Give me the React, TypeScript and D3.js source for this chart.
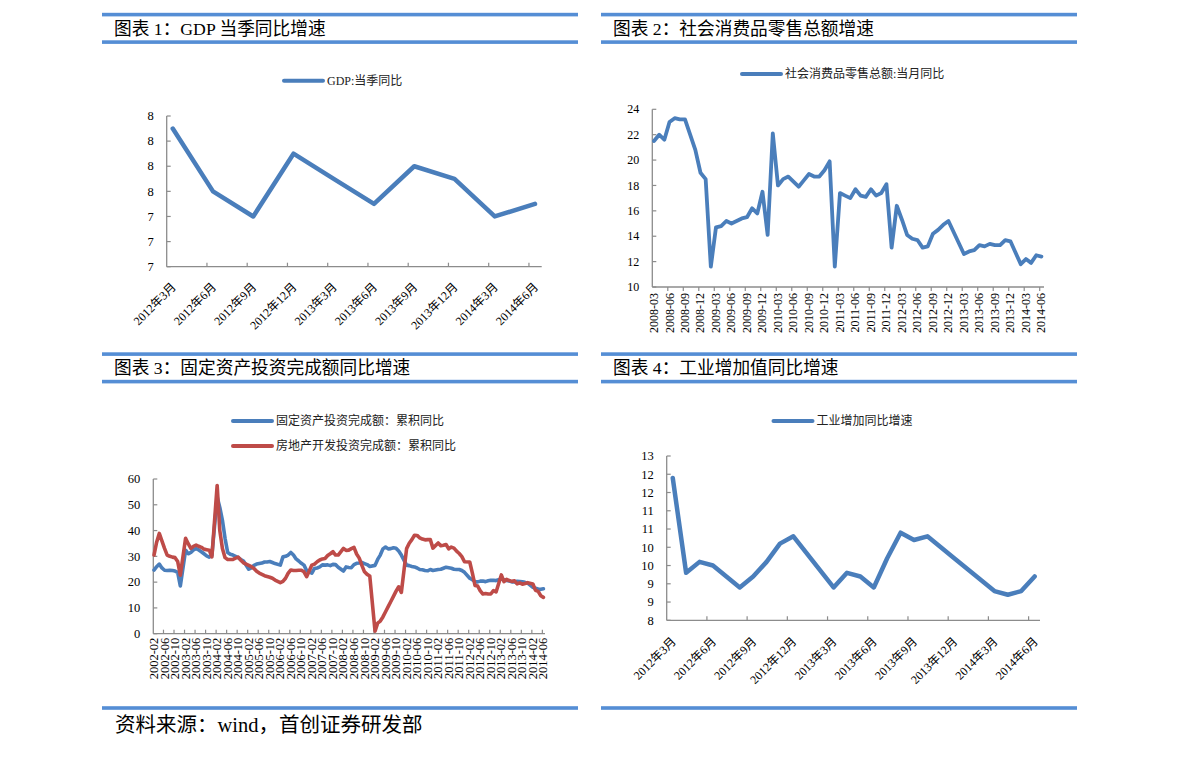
import React from 'react';
import * as d3 from 'd3';

const FONT = '"Liberation Serif", "Times New Roman", "Noto Sans CJK SC", serif';
const BLUE = '#4a7ebb';
const RED = '#be4b48';
const AXIS = '#8c8c8c';
const BAR = '#558ed5';

// 图表1: GDP 当季同比 (quarterly, 2012Q1..2014Q2)
const gdpLabels = ['2012年3月', '2012年6月', '2012年9月', '2012年12月', '2013年3月', '2013年6月', '2013年9月', '2013年12月', '2014年3月', '2014年6月'];
const gdpValues = [8.1, 7.6, 7.4, 7.9, 7.7, 7.5, 7.8, 7.7, 7.4, 7.5];
const gdpTicks = [7.0, 7.2, 7.4, 7.6, 7.8, 8.0, 8.2];

// 图表2: 社会消费品零售总额 当月同比, monthly from 2008-03 (null = no data)
const retailValues: (number | null)[] = [
  21.5, 22.0, 21.6, 23.0, 23.3, 23.2, 23.2, 22.0, 20.8, 19.0,
  18.5, 11.6, 14.7, 14.8, 15.2, 15.0, 15.2, 15.4, 15.5, 16.2, 15.8, 17.5,
  14.1, 22.1, 18.0, 18.5, 18.7, 18.3, 17.9, 18.4, 18.9, 18.7, 18.7, 19.2,
  19.9, 11.6, 17.4, 17.2, 17.0, 17.7, 17.2, 17.1, 17.7, 17.2, 17.4, 18.1,
  13.1, 16.4, 15.3, 14.1, 13.8, 13.7, 13.1, 13.2, 14.2, 14.5, 14.9, 15.2,
  null, null, 12.6, 12.8, 12.9, 13.3, 13.2, 13.4, 13.3, 13.3, 13.7, 13.6,
  null, 11.8, 12.2, 11.9, 12.5, 12.4,
];
const retailLabels = [
  '2008-03', '2008-06', '2008-09', '2008-12', '2009-03', '2009-06', '2009-09', '2009-12',
  '2010-03', '2010-06', '2010-09', '2010-12', '2011-03', '2011-06', '2011-09', '2011-12',
  '2012-03', '2012-06', '2012-09', '2012-12', '2013-03', '2013-06', '2013-09', '2013-12',
  '2014-03', '2014-06',
];
const retailTicks = [10, 12, 14, 16, 18, 20, 22, 24];

// 图表3: 累积同比, monthly from 2002-02, one row per year (Feb..Dec, next Jan = null)
const fixedInvValues: (number | null)[] = [
  24.7, 26.0, 27.0, 25.5, 24.6, 24.5, 24.6, 24.5, 24.3, 23.8, 18.5, null,
  32.4, 31.0, 31.5, 32.5, 33.0, 32.5, 31.8, 31.0, 30.2, 29.7, 30.4, null,
  53.0, 49.0, 44.0, 37.0, 31.5, 30.8, 30.5, 30.0, 29.5, 28.8, 28.2, null,
  25.0, 25.5, 26.5, 27.0, 27.2, 27.4, 27.8, 27.8, 28.0, 27.6, 27.2, null,
  26.6, 29.8, 30.0, 30.5, 31.5, 30.5, 29.0, 28.2, 27.3, 26.6, 24.5, null,
  23.5, 25.3, 25.5, 25.9, 26.7, 26.6, 26.7, 26.4, 26.9, 26.8, 25.8, null,
  24.3, 25.9, 25.7, 25.6, 26.8, 27.3, 27.4, 27.6, 27.2, 26.8, 26.1, null,
  26.5, 28.8, 30.5, 32.9, 33.6, 32.9, 33.0, 33.3, 33.1, 32.1, 30.5, null,
  26.6, 26.4, 26.1, 25.9, 25.5, 24.9, 24.8, 24.5, 24.4, 24.9, 24.5, null,
  24.9, 25.0, 25.4, 25.8, 25.6, 25.4, 25.0, 24.9, 24.9, 24.5, 23.8, null,
  21.5, 20.9, 20.2, 20.1, 20.4, 20.4, 20.2, 20.5, 20.7, 20.7, 20.6, null,
  21.2, 20.9, 20.6, 20.4, 20.1, 20.1, 20.3, 20.2, 20.1, 19.9, 19.6, null,
  18.0, 17.6, 17.3, 17.2, 17.4,
];
const realEstateValues: (number | null)[] = [
  30.5, 35.5, 38.9, 36.0, 33.1, 30.5, 30.0, 29.7, 29.5, 28.0, 22.7, null,
  37.0, 34.9, 33.1, 33.9, 34.4, 33.9, 33.5, 32.8, 32.6, 32.4, 29.8, null,
  57.5, 40.0, 33.0, 29.5, 28.8, 28.8, 28.8, 29.3, 29.7, 28.5, 27.5, null,
  26.5, 26.0, 25.3, 24.2, 23.5, 23.0, 22.5, 22.2, 21.9, 21.5, 20.8, null,
  19.8, 20.3, 21.5, 23.5, 24.7, 24.5, 24.5, 24.6, 24.6, 24.0, 22.1, null,
  26.6, 27.0, 27.9, 28.6, 29.0, 29.2, 30.3, 31.0, 31.8, 30.5, 30.5, null,
  33.1, 32.3, 32.4, 33.0, 33.5, 30.9, 29.3, 26.5, 24.0, 23.0, 22.4, null,
  1.0, 4.1, 4.9, 6.5, 8.5, 10.5, 12.5, 14.5, 16.5, 18.2, 16.0, null,
  33.0, 35.1, 36.5, 38.2, 38.1, 37.2, 36.7, 36.4, 36.5, 36.5, 33.2, null,
  35.2, 34.1, 34.3, 34.6, 32.9, 33.6, 33.2, 32.0, 31.1, 29.9, 27.9, null,
  27.8, 23.5, 18.7, 18.5, 16.6, 15.4, 15.6, 15.4, 15.4, 16.7, 16.2, null,
  22.8, 20.2, 21.1, 20.6, 20.3, 20.5, 19.3, 19.7, 19.2, 19.5, 19.8, null,
  19.3, 16.8, 16.4, 14.7, 14.1,
];
const investLabels = [
  '2002-02', '2002-06', '2002-10', '2003-02', '2003-06', '2003-10', '2004-02', '2004-06', '2004-10',
  '2005-02', '2005-06', '2005-10', '2006-02', '2006-06', '2006-10', '2007-02', '2007-06', '2007-10',
  '2008-02', '2008-06', '2008-10', '2009-02', '2009-06', '2009-10', '2010-02', '2010-06', '2010-10',
  '2011-02', '2011-06', '2011-10', '2012-02', '2012-06', '2012-10', '2013-02', '2013-06', '2013-10',
  '2014-02', '2014-06',
];
const investTicks = [0, 10, 20, 30, 40, 50, 60];

// 图表4: 工业增加值同比, monthly from 2012-03
const industryValues: (number | null)[] = [
  11.9, 9.3, 9.6, 9.5, 9.2, 8.9, 9.2, 9.6, 10.1, 10.3,
  null, null, 8.9, 9.3, 9.2, 8.9, 9.7, 10.4, 10.2, 10.3, 10.0, 9.7,
  null, null, 8.8, 8.7, 8.8, 9.2,
];
const industryLabels = gdpLabels;
const industryTicks = [8, 8.5, 9, 9.5, 10, 10.5, 11, 11.5, 12, 12.5];

type Series = { values: (number | null)[]; step: number; color: string; width: number };

interface ChartProps {
  left: number; right: number; top: number; bottom: number;
  monthDomain: [number, number];
  yDomain: [number, number];
  yTicks: number[];
  series: Series[];
  tickStep: number; tickOffset: number; xTickDir: number;
  labels: string[]; labelStep: number; labelAngle: number; labelSize: number; labelDy: number;
  ySize: number;
}

const Chart = (p: ChartProps) => {
  const x = d3.scaleLinear().domain(p.monthDomain).range([p.left, p.right]);
  const y = d3.scaleLinear().domain(p.yDomain).range([p.bottom, p.top]);
  const xTicks: number[] = [];
  for (let m = p.tickStep - p.tickOffset; m <= p.monthDomain[1]; m += p.tickStep) xTicks.push(m);
  const line = d3.line<[number, number]>().x(d => x(d[0])).y(d => y(d[1]));

  return (
    <g>
      <line x1={p.left} x2={p.left} y1={p.top} y2={p.bottom} stroke={AXIS} strokeWidth={1.3} />
      {p.yTicks.map(t => (
        <g key={t}>
          <line x1={p.left} x2={p.left + 4} y1={y(t)} y2={y(t)} stroke={AXIS} strokeWidth={1.2} />
          <text x={p.left - 13} y={y(t)} dy="0.34em" textAnchor="end" fontSize={p.ySize} fontFamily={FONT}>
            {Math.round(t)}
          </text>
        </g>
      ))}
      <line x1={p.left} x2={p.right} y1={p.bottom} y2={p.bottom} stroke={AXIS} strokeWidth={1.3} />
      {xTicks.map(m => (
        <line key={m} x1={x(m)} x2={x(m)} y1={p.bottom} y2={p.bottom + 4 * p.xTickDir} stroke={AXIS} strokeWidth={1.2} />
      ))}
      {p.labels.map((l, i) => (
        <text key={l} transform={`translate(${x(i * p.labelStep) + 4},${p.bottom + p.labelDy}) rotate(${p.labelAngle})`}
          textAnchor="end" fontSize={p.labelSize} fontFamily={FONT}>{l}</text>
      ))}
      {p.series.map((s, k) => {
        const pts: [number, number][] = [];
        s.values.forEach((v, i) => { if (v != null) pts.push([i * s.step, v]); });
        return <path key={k} d={line(pts) || ''} fill="none" stroke={s.color} strokeWidth={s.width}
          strokeLinejoin="round" strokeLinecap="round" />;
      })}
    </g>
  );
};

const Legend = ({ x, y, color, label }: { x: number; y: number; color: string; label: string }) => (
  <g>
    <line x1={x} x2={x + 39} y1={y} y2={y} stroke={color} strokeWidth={4} strokeLinecap="round" />
    <text x={x + 43} y={y + 4.3} fontSize={12} fontFamily={FONT} fill="#222">{label}</text>
  </g>
);

const Header = ({ x1, x2, top, title }: { x1: number; x2: number; top: number; title: string }) => (
  <g>
    <rect x={x1} y={top} width={x2 - x1} height={3.6} fill={BAR} />
    <rect x={x1} y={top + 27.5} width={x2 - x1} height={3.6} fill={BAR} />
    <text x={x1 + 12} y={top + 21.8} fontSize={17.7} fontFamily={FONT}>{title}</text>
  </g>
);

export default function App() {
  return (
    <svg width={1191} height={757} style={{ position: 'absolute', left: 0, top: 0, background: '#fff' }}>
      <Header x1={102} x2={578} top={12.8} title="图表 1：GDP 当季同比增速" />
      <Header x1={601} x2={1077} top={12.8} title="图表 2：社会消费品零售总额增速" />
      <Header x1={102} x2={578} top={352.3} title="图表 3：固定资产投资完成额同比增速" />
      <Header x1={601} x2={1077} top={352.3} title="图表 4：工业增加值同比增速" />

      <Legend x={284} y={80.7} color={BLUE} label="GDP:当季同比" />
      <Chart left={166.7} right={541.7} top={116} bottom={266.7} monthDomain={[-0.45, 27.5]}
        yDomain={[7.0, 8.2]} yTicks={gdpTicks} ySize={12.5}
        series={[{ values: gdpValues, step: 3, color: BLUE, width: 4.5 }]}
        tickStep={3} tickOffset={0.45} xTickDir={-1}
        labels={gdpLabels} labelStep={3} labelAngle={-45} labelSize={12} labelDy={21} />

      <Legend x={742} y={74} color={BLUE} label="社会消费品零售总额:当月同比" />
      <Chart left={652.3} right={1044} top={109.3} bottom={287} monthDomain={[-0.33, 75.5]}
        yDomain={[10, 24]} yTicks={retailTicks} ySize={12}
        series={[{ values: retailValues, step: 1, color: BLUE, width: 3.8 }]}
        tickStep={3} tickOffset={0.33} xTickDir={1}
        labels={retailLabels} labelStep={3} labelAngle={-90} labelSize={12} labelDy={6} />

      <Legend x={233} y={421} color={BLUE} label="固定资产投资完成额：累积同比" />
      <Legend x={233} y={446} color={RED} label="房地产开发投资完成额：累积同比" />
      <Chart left={153.3} right={545} top={479} bottom={633.7} monthDomain={[-0.27, 148.6]}
        yDomain={[0, 60]} yTicks={investTicks} ySize={12.5}
        series={[
          { values: fixedInvValues, step: 1, color: BLUE, width: 3.6 },
          { values: realEstateValues, step: 1, color: RED, width: 3.6 },
        ]}
        tickStep={4} tickOffset={0.4} xTickDir={-1}
        labels={investLabels} labelStep={4} labelAngle={-90} labelSize={12.5} labelDy={4} />

      <Legend x={773.5} y={421} color={BLUE} label="工业增加同比增速" />
      <Chart left={666.7} right={1040} top={456} bottom={620.3} monthDomain={[-0.45, 27.4]}
        yDomain={[8, 12.5]} yTicks={industryTicks} ySize={12.5}
        series={[{ values: industryValues, step: 1, color: BLUE, width: 4.5 }]}
        tickStep={3} tickOffset={0.45} xTickDir={-1}
        labels={industryLabels} labelStep={3} labelAngle={-45} labelSize={12} labelDy={22} />

      <rect x={102} y={706.2} width={476} height={3.6} fill={BAR} />
      <rect x={601} y={706.2} width={476} height={3.6} fill={BAR} />
      <text x={115} y={731.5} fontSize={20.5} fontFamily={FONT}>资料来源：wind，首创证券研发部</text>
    </svg>
  );
}
